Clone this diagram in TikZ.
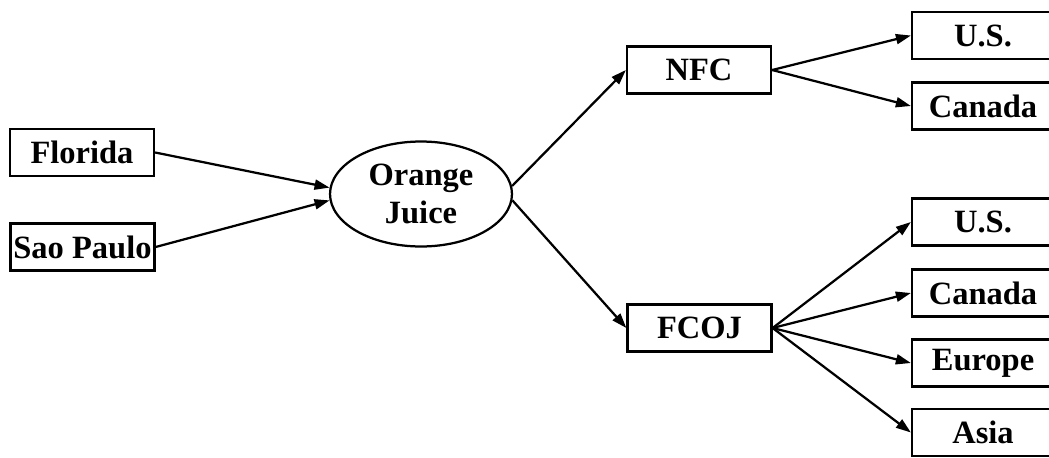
\documentclass[tikz,border=0pt]{standalone}
\usepackage{fontspec}
\setmainfont{Liberation Serif}
\usetikzlibrary{arrows.meta,shapes.geometric}
\begin{document}
\begin{tikzpicture}[x=0.02cm,y=-0.02cm,
  box/.style={draw,line width=0.045cm,inner sep=0pt,minimum width=2.88cm,minimum height=0.94cm,
    font=\fontsize{18.5}{21.5}\selectfont\bfseries},
  oval/.style={draw,ellipse,line width=0.045cm,inner sep=0pt,minimum width=3.64cm,minimum height=2.1cm,
    align=center,font=\fontsize{18.5}{21.5}\selectfont\bfseries},
  conn/.style={line width=0.045cm,-{Triangle[length=0.3cm,width=0.2cm]}}]
\useasboundingbox (0,0) rectangle (1049,457);
\clip (0,0) rectangle (1049,457);
\fill[white] (0,0) rectangle (1049,457);
\node[box] (fl) at (82,152.5) {Florida};
\node[box] (sp) at (82.5,247) {Sao Paulo};
\node[oval] (oj) at (421,194) {Orange\\Juice};
\node[box] (nfc) at (699,70) {NFC};
\node[box] (fcoj) at (699.5,328) {FCOJ};
\node[box,minimum width=2.84cm] (us1) at (983,35.5) {U.S.};
\node[box,minimum width=2.84cm] (ca1) at (983,106) {Canada};
\node[box,minimum width=2.84cm] (us2) at (983,222) {U.S.};
\node[box,minimum width=2.84cm] (ca2) at (983,293) {Canada};
\node[box,minimum width=2.84cm] (eu) at (983,363) {Europe};
\node[box,minimum width=2.84cm] (as) at (983,432.5) {Asia};
\draw[conn] (fl.east) -- (oj.176);
\draw[conn] (sp.east) -- (oj.184);
\draw[conn] (oj.5) -- (nfc.west);
\draw[conn] (oj.-4) -- (fcoj.west);
\draw[conn] (nfc.east) -- (us1.west);
\draw[conn] (nfc.east) -- (ca1.west);
\draw[conn] (fcoj.east) -- (us2.west);
\draw[conn] (fcoj.east) -- (ca2.west);
\draw[conn] (fcoj.east) -- (eu.west);
\draw[conn] (fcoj.east) -- (as.west);
\end{tikzpicture}
\end{document}
